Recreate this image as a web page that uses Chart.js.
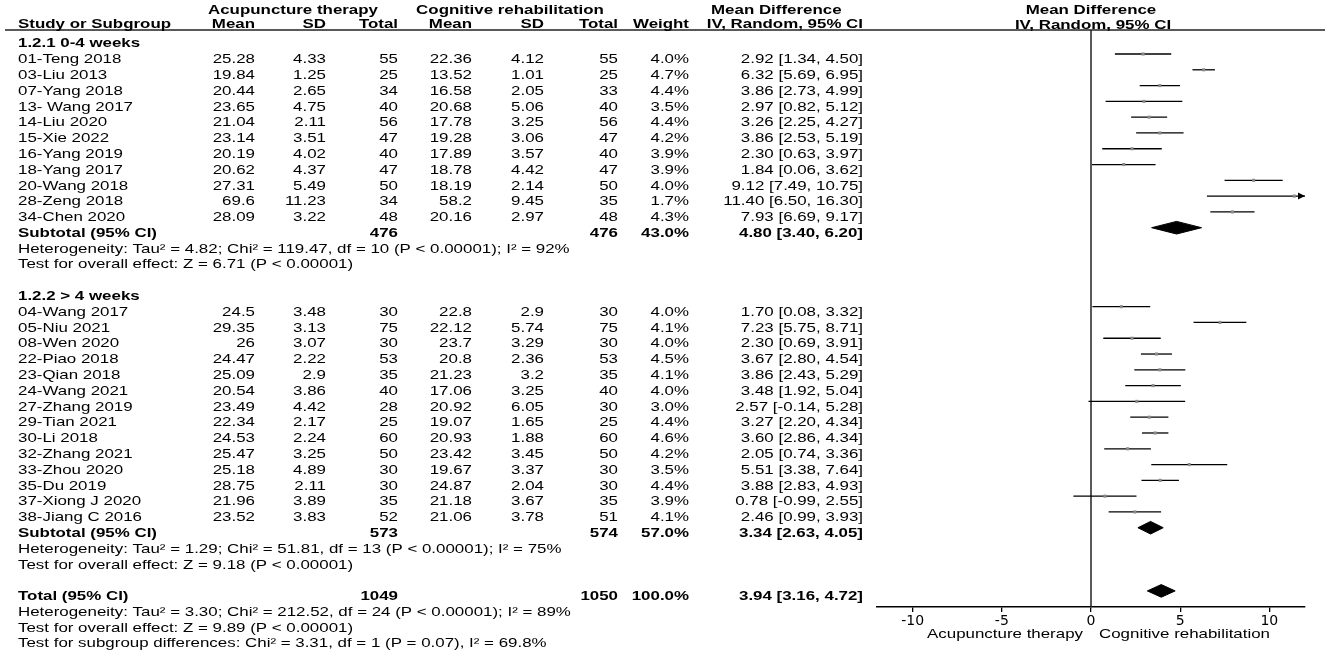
<!DOCTYPE html>
<html>
<head>
<meta charset="utf-8">
<script src="https://cdn.jsdelivr.net/npm/chart.js@4.4.1/dist/chart.umd.min.js"></script>
<style>
  html, body { margin: 0; padding: 0; background: #fff; }
  #wrap { width: 1325px; height: 654px; }
</style>
</head>
<body>
<div id="wrap"><canvas id="forest" width="1325" height="654"></canvas></div>
<script>
// Subgroups
const groupLabels = ['1.2.1 0-4 weeks', '1.2.2 > 4 weeks'];
const groupSizes = [11, 14];

// Studies (both subgroups, in order)
const studyNames = ['01-Teng 2018', '03-Liu 2013', '07-Yang 2018', '13- Wang 2017', '14-Liu 2020', '15-Xie 2022',
  '16-Yang 2019', '18-Yang 2017', '20-Wang 2018', '28-Zeng 2018', '34-Chen 2020',
  '04-Wang 2017', '05-Niu 2021', '08-Wen 2020', '22-Piao 2018', '23-Qian 2018', '24-Wang 2021', '27-Zhang 2019',
  '29-Tian 2021', '30-Li 2018', '32-Zhang 2021', '33-Zhou 2020', '35-Du 2019', '37-Xiong J 2020', '38-Jiang C 2016'];
const acuMean = [25.28, 19.84, 20.44, 23.65, 21.04, 23.14, 20.19, 20.62, 27.31, 69.6, 28.09,
  24.5, 29.35, 26, 24.47, 25.09, 20.54, 23.49, 22.34, 24.53, 25.47, 25.18, 28.75, 21.96, 23.52];
const acuSD = [4.33, 1.25, 2.65, 4.75, 2.11, 3.51, 4.02, 4.37, 5.49, 11.23, 3.22,
  3.48, 3.13, 3.07, 2.22, 2.9, 3.86, 4.42, 2.17, 2.24, 3.25, 4.89, 2.11, 3.89, 3.83];
const acuN = [55, 25, 34, 40, 56, 47, 40, 47, 50, 34, 48,
  30, 75, 30, 53, 35, 40, 28, 25, 60, 50, 30, 30, 35, 52];
const cogMean = [22.36, 13.52, 16.58, 20.68, 17.78, 19.28, 17.89, 18.78, 18.19, 58.2, 20.16,
  22.8, 22.12, 23.7, 20.8, 21.23, 17.06, 20.92, 19.07, 20.93, 23.42, 19.67, 24.87, 21.18, 21.06];
const cogSD = [4.12, 1.01, 2.05, 5.06, 3.25, 3.06, 3.57, 4.42, 2.14, 9.45, 2.97,
  2.9, 5.74, 3.29, 2.36, 3.2, 3.25, 6.05, 1.65, 1.88, 3.45, 3.37, 2.04, 3.67, 3.78];
const cogN = [55, 25, 33, 40, 56, 47, 40, 47, 50, 35, 48,
  30, 75, 30, 53, 35, 40, 30, 25, 60, 50, 30, 30, 35, 51];
const weights = [4.0, 4.7, 4.4, 3.5, 4.4, 4.2, 3.9, 3.9, 4.0, 1.7, 4.3,
  4.0, 4.1, 4.0, 4.5, 4.1, 4.0, 3.0, 4.4, 4.6, 4.2, 3.5, 4.4, 3.9, 4.1];
const md = [2.92, 6.32, 3.86, 2.97, 3.26, 3.86, 2.30, 1.84, 9.12, 11.40, 7.93,
  1.70, 7.23, 2.30, 3.67, 3.86, 3.48, 2.57, 3.27, 3.60, 2.05, 5.51, 3.88, 0.78, 2.46];
const ciLow = [1.34, 5.69, 2.73, 0.82, 2.25, 2.53, 0.63, 0.06, 7.49, 6.50, 6.69,
  0.08, 5.75, 0.69, 2.80, 2.43, 1.92, -0.14, 2.20, 2.86, 0.74, 3.38, 2.83, -0.99, 0.99];
const ciHigh = [4.50, 6.95, 4.99, 5.12, 4.27, 5.19, 3.97, 3.62, 10.75, 16.30, 9.17,
  3.32, 8.71, 3.91, 4.54, 5.29, 5.04, 5.28, 4.34, 4.34, 3.36, 7.64, 4.93, 2.55, 3.93];

// Subtotals, then overall total
const subAcuN = [476, 573];
const subCogN = [476, 574];
const subWeight = [43.0, 57.0];
const subMd = [4.80, 3.34];
const subLow = [3.40, 2.63];
const subHigh = [6.20, 4.05];
const subHet = [
  'Heterogeneity: Tau² = 4.82; Chi² = 119.47, df = 10 (P < 0.00001); I² = 92%',
  'Heterogeneity: Tau² = 1.29; Chi² = 51.81, df = 13 (P < 0.00001); I² = 75%'
];
const subTest = ['Test for overall effect: Z = 6.71 (P < 0.00001)', 'Test for overall effect: Z = 9.18 (P < 0.00001)'];
const total = { acuN: 1049, cogN: 1050, weight: 100.0, md: 3.94, low: 3.16, high: 4.72 };
const totalNotes = [
  'Heterogeneity: Tau² = 3.30; Chi² = 212.52, df = 24 (P < 0.00001); I² = 89%',
  'Test for overall effect: Z = 9.89 (P < 0.00001)',
  'Test for subgroup differences: Chi² = 3.31, df = 1 (P = 0.07), I² = 69.8%'
];
const xTicks = [-10, -5, 0, 5, 10];

// Row layout: header, studies, subtotal, heterogeneity, test, blank
const studyRows = [], headerRows = [], subRows = [];
let r = 0;
groupSizes.forEach(n => {
  headerRows.push(r++);
  for (let i = 0; i < n; i++) studyRows.push(r++);
  subRows.push(r);
  r += 4;
});
const totalRow = r;

const FONT = '"Liberation Sans", Arial, sans-serif';
const SX = 1.3; // reference text is stretched horizontally
const DIAMOND_H = 0.4;

function txt(ctx, s, x, y, align, bold) {
  ctx.save();
  ctx.font = (bold ? 'bold ' : '') + '13px ' + FONT;
  ctx.fillStyle = '#000';
  ctx.textAlign = align;
  ctx.textBaseline = 'alphabetic';
  ctx.translate(x, y);
  ctx.scale(SX, 1);
  ctx.fillText(s, 0, 0);
  ctx.restore();
}

const fmtCI = (m, l, h) => m.toFixed(2) + ' [' + l.toFixed(2) + ', ' + h.toFixed(2) + ']';
const diamond = (m, l, h, row) => [
  { x: l, y: row }, { x: m, y: row - DIAMOND_H }, { x: h, y: row }, { x: m, y: row + DIAMOND_H }, { x: l, y: row }
];

// Column right edges for the table
const col = { acuMean: 255, acuSD: 326, acuN: 398, cogMean: 472, cogSD: 544, cogN: 618, weight: 689, ci: 863 };

const tablePlugin = {
  id: 'forestTable',
  afterDraw(chart) {
    const ctx = chart.ctx;
    const xs = chart.scales.x, ys = chart.scales.y;
    const area = chart.chartArea;
    const base = row => ys.getPixelForValue(row) + 9.2;

    // header line
    ctx.save();
    ctx.strokeStyle = '#222';
    ctx.lineWidth = 1.4;
    ctx.beginPath();
    ctx.moveTo(5, area.top);
    ctx.lineTo(chart.width, area.top);
    ctx.stroke();
    ctx.restore();

    const h1 = area.top - 16, h2 = area.top - 2.3;
    txt(ctx, 'Acupuncture therapy', 293, h1, 'center', true);
    txt(ctx, 'Cognitive rehabilitation', 510, h1, 'center', true);
    txt(ctx, 'Mean Difference', 711, h1, 'left', true);
    txt(ctx, 'Study or Subgroup', 18, h2, 'left', true);
    txt(ctx, 'Mean', col.acuMean, h2, 'right', true);
    txt(ctx, 'SD', col.acuSD, h2, 'right', true);
    txt(ctx, 'Total', col.acuN, h2, 'right', true);
    txt(ctx, 'Mean', col.cogMean, h2, 'right', true);
    txt(ctx, 'SD', col.cogSD, h2, 'right', true);
    txt(ctx, 'Total', col.cogN, h2, 'right', true);
    txt(ctx, 'Weight', col.weight, h2, 'right', true);
    txt(ctx, 'IV, Random, 95% CI', col.ci, h2, 'right', true);

    const zeroPx = xs.getPixelForValue(0);
    txt(ctx, 'Mean Difference', zeroPx, h1, 'center', true);
    txt(ctx, 'IV, Random, 95% CI', zeroPx + 2, area.top - 1.5, 'center', true);

    headerRows.forEach((row, g) => txt(ctx, groupLabels[g], 18, base(row), 'left', true));

    studyRows.forEach((row, i) => {
      const y = base(row);
      txt(ctx, studyNames[i], 18, y, 'left');
      txt(ctx, String(acuMean[i]), col.acuMean, y, 'right');
      txt(ctx, String(acuSD[i]), col.acuSD, y, 'right');
      txt(ctx, String(acuN[i]), col.acuN, y, 'right');
      txt(ctx, String(cogMean[i]), col.cogMean, y, 'right');
      txt(ctx, String(cogSD[i]), col.cogSD, y, 'right');
      txt(ctx, String(cogN[i]), col.cogN, y, 'right');
      txt(ctx, weights[i].toFixed(1) + '%', col.weight, y, 'right');
      txt(ctx, fmtCI(md[i], ciLow[i], ciHigh[i]), col.ci, y, 'right');
    });

    subRows.forEach((row, g) => {
      const y = base(row);
      txt(ctx, 'Subtotal (95% CI)', 18, y, 'left', true);
      txt(ctx, String(subAcuN[g]), col.acuN, y, 'right', true);
      txt(ctx, String(subCogN[g]), col.cogN, y, 'right', true);
      txt(ctx, subWeight[g].toFixed(1) + '%', col.weight, y, 'right', true);
      txt(ctx, fmtCI(subMd[g], subLow[g], subHigh[g]), col.ci, y, 'right', true);
      txt(ctx, subHet[g], 18, base(row + 1), 'left');
      txt(ctx, subTest[g], 18, base(row + 2), 'left');
    });

    const ty = base(totalRow);
    txt(ctx, 'Total (95% CI)', 18, ty, 'left', true);
    txt(ctx, String(total.acuN), col.acuN, ty, 'right', true);
    txt(ctx, String(total.cogN), col.cogN, ty, 'right', true);
    txt(ctx, total.weight.toFixed(1) + '%', col.weight, ty, 'right', true);
    txt(ctx, fmtCI(total.md, total.low, total.high), col.ci, ty, 'right', true);
    totalNotes.forEach((s, k) => txt(ctx, s, 18, base(totalRow + 1 + k), 'left'));

    // favours labels under the axis
    const fy = area.bottom + 31;
    txt(ctx, 'Acupuncture therapy', zeroPx - 8, fy, 'right');
    txt(ctx, 'Cognitive rehabilitation', zeroPx + 8, fy, 'left');
  },
  afterDatasetsDraw(chart) {
    // arrow where a CI runs past the axis limit
    const ctx = chart.ctx;
    const xs = chart.scales.x, ys = chart.scales.y;
    ctx.save();
    ctx.fillStyle = '#000';
    studyRows.forEach((row, i) => {
      if (ciHigh[i] > xs.max) {
        const x = xs.getPixelForValue(xs.max), y = ys.getPixelForValue(row);
        ctx.beginPath();
        ctx.moveTo(x, y);
        ctx.lineTo(x - 7, y - 3.5);
        ctx.lineTo(x - 7, y + 3.5);
        ctx.closePath();
        ctx.fill();
      }
    });
    ctx.restore();
  }
};

const datasets = [];

// point estimates
datasets.push({
  type: 'scatter',
  data: studyRows.map((row, i) => ({ x: md[i], y: row })),
  pointStyle: 'rect',
  pointRadius: 2.2,
  pointBackgroundColor: '#8a8a8a',
  pointBorderWidth: 0,
  order: 0
});

// confidence intervals
studyRows.forEach((row, i) => {
  datasets.push({
    type: 'line',
    data: [{ x: ciLow[i], y: row }, { x: ciHigh[i], y: row }],
    borderColor: '#000',
    borderWidth: 1.3,
    pointRadius: 0,
    order: 1
  });
});

// subtotal and total diamonds
subRows.forEach((row, g) => {
  datasets.push({
    type: 'line',
    data: diamond(subMd[g], subLow[g], subHigh[g], row),
    borderColor: '#000',
    backgroundColor: '#000',
    borderWidth: 1,
    pointRadius: 0,
    fill: 'shape',
    order: 1
  });
});
datasets.push({
  type: 'line',
  data: diamond(total.md, total.low, total.high, totalRow),
  borderColor: '#000',
  backgroundColor: '#000',
  borderWidth: 1,
  pointRadius: 0,
  fill: 'shape',
  order: 1
});

const Y_TOP = -0.52, Y_BOTTOM = 36.02;

// line of no effect
datasets.push({
  type: 'line',
  data: [{ x: 0, y: Y_TOP }, { x: 0, y: Y_BOTTOM }],
  borderColor: '#222',
  borderWidth: 1.5,
  pointRadius: 0,
  order: 2
});

new Chart(document.getElementById('forest'), {
  type: 'scatter',
  data: { datasets: datasets },
  plugins: [tablePlugin],
  options: {
    responsive: false,
    animation: false,
    layout: { padding: { left: 877, right: 20, top: 30, bottom: 0 } },
    plugins: {
      legend: { display: false },
      tooltip: { enabled: false }
    },
    scales: {
      x: {
        type: 'linear',
        min: -12,
        max: 12,
        afterBuildTicks: scale => { scale.ticks = xTicks.map(v => ({ value: v })); },
        afterFit: scale => { scale.height = 47; },
        ticks: {
          color: '#000',
          padding: 1,
          font: { family: '"DejaVu Sans", sans-serif', size: 14 }
        },
        grid: { drawOnChartArea: false, drawTicks: true, tickLength: 5, color: '#000', lineWidth: 1.3 },
        border: { display: true, color: '#000', width: 1.5 }
      },
      y: {
        type: 'linear',
        display: false,
        reverse: true,
        min: Y_TOP,
        max: Y_BOTTOM
      }
    }
  }
});
</script>
</body>
</html>
